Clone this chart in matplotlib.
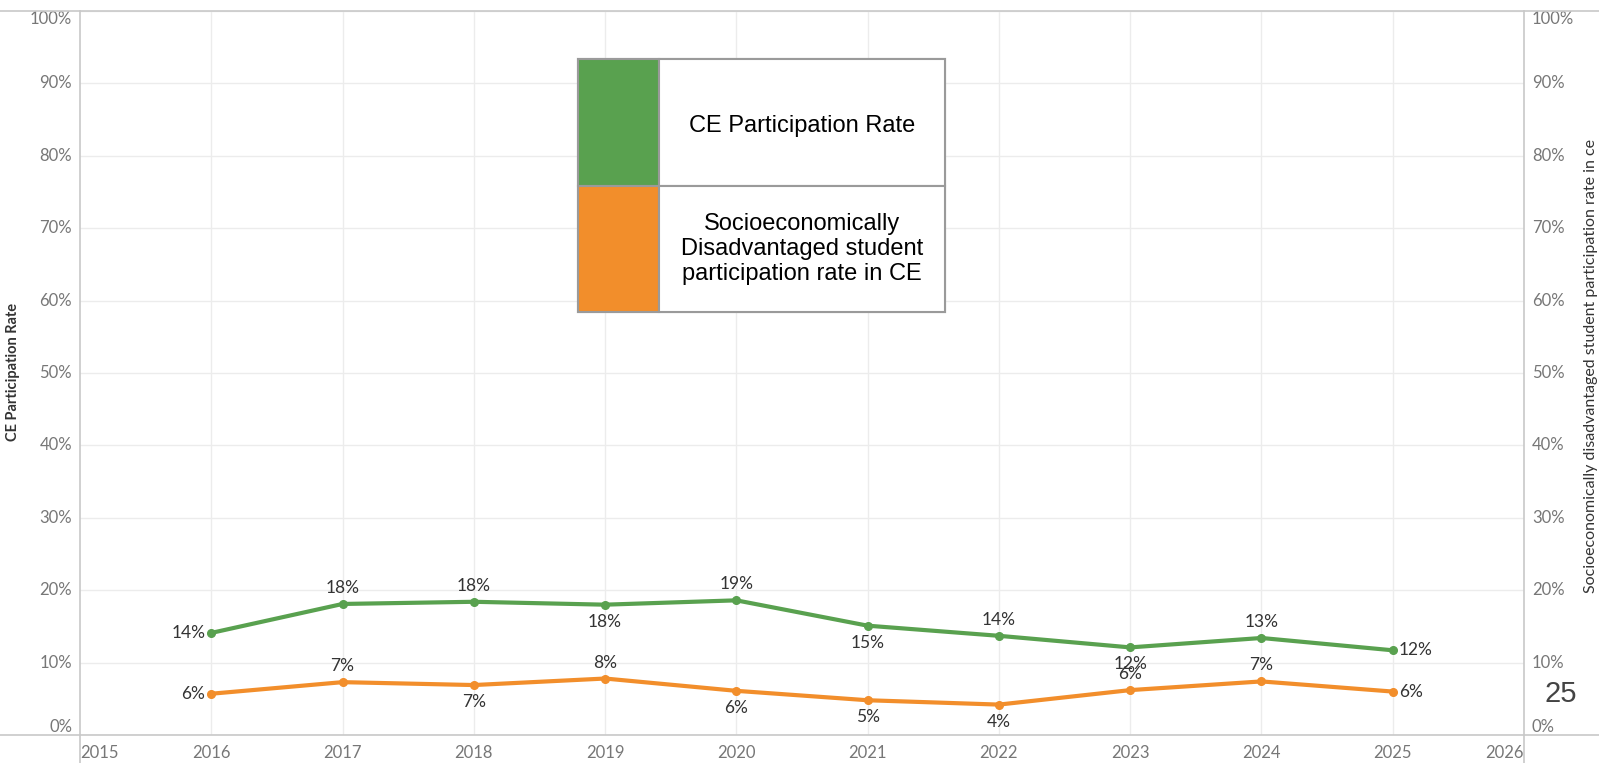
import matplotlib.pyplot as plt
from matplotlib.lines import Line2D
from matplotlib.patches import Rectangle

years = [2016, 2017, 2018, 2019, 2020, 2021, 2022, 2023, 2024, 2025]
ce_rate = [14.1, 18.1, 18.4, 18.0, 18.6, 15.1, 13.7, 12.1, 13.4, 11.7]
sed_rate = [5.7, 7.3, 6.9, 7.8, 6.1, 4.8, 4.2, 6.2, 7.4, 6.0]
# where each data label sits relative to its point
ce_pos = ["left", "above", "above", "below", "above", "below", "above", "below", "above", "right"]
sed_pos = ["left", "above", "below", "above", "below", "below", "below", "above", "above", "right"]
x_ticks = list(range(2015, 2027))
y_ticks = list(range(0, 101, 10))

green = "#59a14f"
orange = "#f28e2b"

plt.rcParams["font.family"] = ["Lato", "DejaVu Sans"]

fig = plt.figure(figsize=(15.99, 7.63), dpi=100)
W, H = 1599, 763
ax = fig.add_axes([80 / W, (H - 735) / H, (1524 - 80) / W, (735 - 11) / H])
ax.set_xlim(2015, 2026)
ax.set_ylim(0, 100)

for s in ax.spines.values():
    s.set_visible(False)

ax.set_xticks(years)
ax.grid(True, color="#ececec", linewidth=1)
ax.set_yticks(y_ticks)
ax.tick_params(length=0)
ax.set_xticklabels([])
ax.set_yticklabels([])

# tick labels, tableau style (end labels kept inside)
for x in x_ticks:
    ha = "left" if x == x_ticks[0] else ("right" if x == x_ticks[-1] else "center")
    ax.annotate(str(x), (x, 0), xytext=(0, -18), textcoords="offset pixels",
                ha=ha, va="center", fontsize=12, color="#777777", annotation_clip=False)
for y in y_ticks:
    va = "top" if y == 100 else ("bottom" if y == 0 else "center")
    for xx, dx, ha in [(2015, -8, "right"), (2026, 8, "left")]:
        ax.annotate(f"{y}%", (xx, y), xytext=(dx, 0), textcoords="offset pixels",
                    ha=ha, va=va, fontsize=12, color="#777777", annotation_clip=False)

ax.plot(years, ce_rate, color=green, lw=3, marker="o", ms=5.5, zorder=3)
ax.plot(years, sed_rate, color=orange, lw=3, marker="o", ms=5.5, zorder=3)

offs = {"above": (0, 16, "center"), "below": (0, -17, "center"),
        "left": (-6, 0, "right"), "right": (6, 0, "left")}
for vals, poss in [(ce_rate, ce_pos), (sed_rate, sed_pos)]:
    for x, v, p in zip(years, vals, poss):
        dx, dy, ha = offs[p]
        ax.annotate(f"{v:.0f}%", (x, v), xytext=(dx, dy), textcoords="offset pixels",
                    ha=ha, va="center", fontsize=12.5, color="#333333", zorder=4)

# frame lines
for (x0, y0, x1, y1) in [(0, 11, W, 11), (0, 735, W, 735), (80, 11, 80, H), (1524, 11, 1524, H)]:
    fig.add_artist(Line2D([x0 / W, x1 / W], [1 - y0 / H, 1 - y1 / H], color="#c8c8c8", lw=1.2))

fig.text(13 / W, 1 - 372 / H, "CE Participation Rate", rotation=90, ha="center", va="center",
         fontsize=10.5, color="#333333", fontweight="bold")
fig.text(1591 / W, 1 - 366 / H, "Socioeconomically disadvantaged student participation rate in ce",
         rotation=90, ha="center", va="center", fontsize=11.5, color="#333333")
fig.text(1561 / W, 1 - 694 / H, "25", ha="center", va="center", fontsize=21,
         color="#444444", family="Liberation Sans")

# legend box
lx0, lx1, lsw, ly0, lmid, ly1 = 578, 945, 659, 59, 186, 312
def rect(x0, y0, x1, y1, fc):
    fig.add_artist(Rectangle((x0 / W, 1 - y1 / H), (x1 - x0) / W, (y1 - y0) / H,
                             facecolor=fc, edgecolor="#9a9a9a", lw=1.5))
rect(lx0, ly0, lx1, ly1, "white")
rect(lx0, ly0, lsw, lmid, green)
rect(lx0, lmid, lsw, ly1, orange)
rect(lsw, ly0, lx1, lmid, "white")
rect(lsw, lmid, lx1, ly1, "white")
fig.text((lsw + lx1) / 2 / W, 1 - 126 / H, "CE Participation Rate", ha="center", va="center",
         fontsize=17, family="Liberation Sans", color="black")
fig.text((lsw + lx1) / 2 / W, 1 - 249 / H,
         "Socioeconomically\nDisadvantaged student\nparticipation rate in CE",
         ha="center", va="center", fontsize=17, family="Liberation Sans", color="black",
         linespacing=1.15)

fig.savefig("out.png", dpi=100)
